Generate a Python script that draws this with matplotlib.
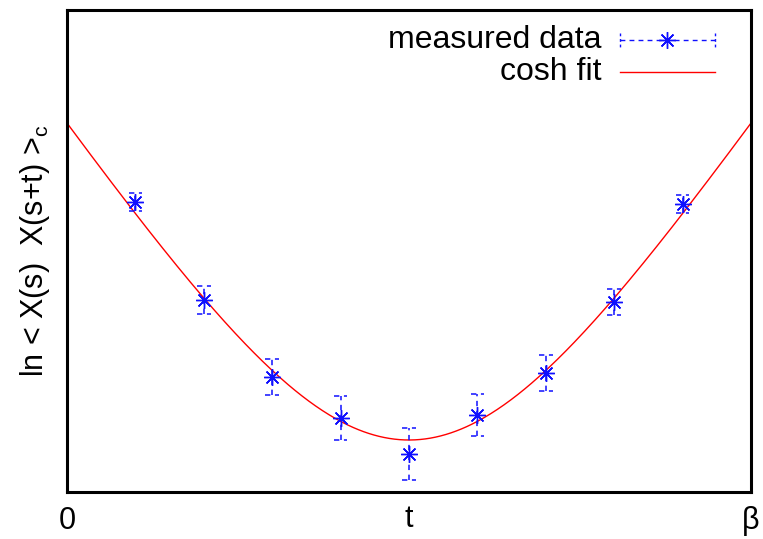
import numpy as np
import matplotlib
matplotlib.use("Agg")
import matplotlib.pyplot as plt
from matplotlib.lines import Line2D

plt.rcParams['font.family'] = ['Liberation Sans', 'DejaVu Sans']
plt.rcParams['mathtext.fontset'] = 'custom'
plt.rcParams['mathtext.rm'] = 'Liberation Sans'
plt.rcParams['mathtext.it'] = 'Liberation Sans'

# ---- data (arbitrary units on y) ----
beta = 10.0
t_vals = [1, 2, 3, 4, 5, 6, 7, 8, 9]
ln_corr = [2.90, 1.92, 1.15, 0.74, 0.38, 0.77, 1.19, 1.905, 2.88]
ln_err = [0.09, 0.14, 0.18, 0.22, 0.26, 0.21, 0.18, 0.13, 0.09]

# cosh fit parameters: y = fit_c + fit_k * ln cosh(fit_m (t - beta/2))
fit_c = 0.52
fit_m = 0.40
fit_k = 2.392

x_ticks = [0, beta]
x_ticklabels = ['0', 'β']

W, H = 763, 539
fig = plt.figure(figsize=(W / 100, H / 100), dpi=100)
L, R, T, B = 67, 751, 10, 492
ax = fig.add_axes([L / W, (H - B) / H, (R - L) / W, (B - T) / H])

blue = '#1010ff'
red = '#ff0000'

# fit curve
tt = np.linspace(0, beta, 400)
ax.plot(tt, fit_c + fit_k * np.log(np.cosh(fit_m * (tt - beta / 2))),
        color=red, lw=1.0, zorder=2)

# error bars (dashed, gnuplot-like)
t_arr = np.array(t_vals, float)
y_arr = np.array(ln_corr)
e_arr = np.array(ln_err)
cap = 0.1
dash = (0, (3.5, 3))
ax.vlines(t_arr, y_arr - e_arr, y_arr + e_arr, colors=blue, linestyles=dash, lw=1.1, zorder=3)
ax.hlines(y_arr - e_arr, t_arr - cap, t_arr + cap, colors=blue, linestyles=dash, lw=1.1, zorder=3)
ax.hlines(y_arr + e_arr, t_arr - cap, t_arr + cap, colors=blue, linestyles=dash, lw=1.1, zorder=3)
ax.plot(t_arr, y_arr, ls='none', marker=(8, 2, 0), ms=12, mew=1.0, color=blue, zorder=4)

ax.set_xlim(0, beta)
ax.set_ylim(0, 4.82)
ax.set_xticks(x_ticks)
ax.set_xticklabels(x_ticklabels, fontsize=22)
ax.set_yticks([])
ax.tick_params(axis='x', length=0, pad=10)
for s in ax.spines.values():
    s.set_linewidth(2.2)

ax.set_xlabel('t', fontsize=22)
ax.xaxis.set_label_coords(0.5, -0.024)
ax.set_ylabel(r'ln < X(s)  X(s+t) >$_\mathrm{c}$', fontsize=22)
ax.yaxis.set_label_coords(-0.022, 0.5)

# legend (gnuplot style: text left, sample right)
def fx(px):
    return (px - L) / (R - L)

def fy(py):
    return (B - py) / (B - T)

ax.text(fx(601), fy(40), 'measured data', transform=ax.transAxes, ha='right', va='center', fontsize=23)
ax.text(fx(601), fy(72), 'cosh fit', transform=ax.transAxes, ha='right', va='center', fontsize=23)
tr = ax.transAxes
ax.add_line(Line2D([fx(620), fx(715)], [fy(40), fy(40)], transform=tr, color=blue, lw=1.0, ls=dash))
ax.add_line(Line2D([fx(620), fx(620)], [fy(33), fy(47)], transform=tr, color=blue, lw=1.0, ls=(0, (2, 2))))
ax.add_line(Line2D([fx(715), fx(715)], [fy(33), fy(47)], transform=tr, color=blue, lw=1.0, ls=(0, (2, 2))))
ax.add_line(Line2D([fx(667)], [fy(40)], transform=tr, color=blue, marker=(8, 2, 0), ms=12, mew=1.0, ls='none'))
ax.add_line(Line2D([fx(620), fx(715)], [fy(72), fy(72)], transform=tr, color=red, lw=1.0))

fig.savefig('out.png', dpi=100)
